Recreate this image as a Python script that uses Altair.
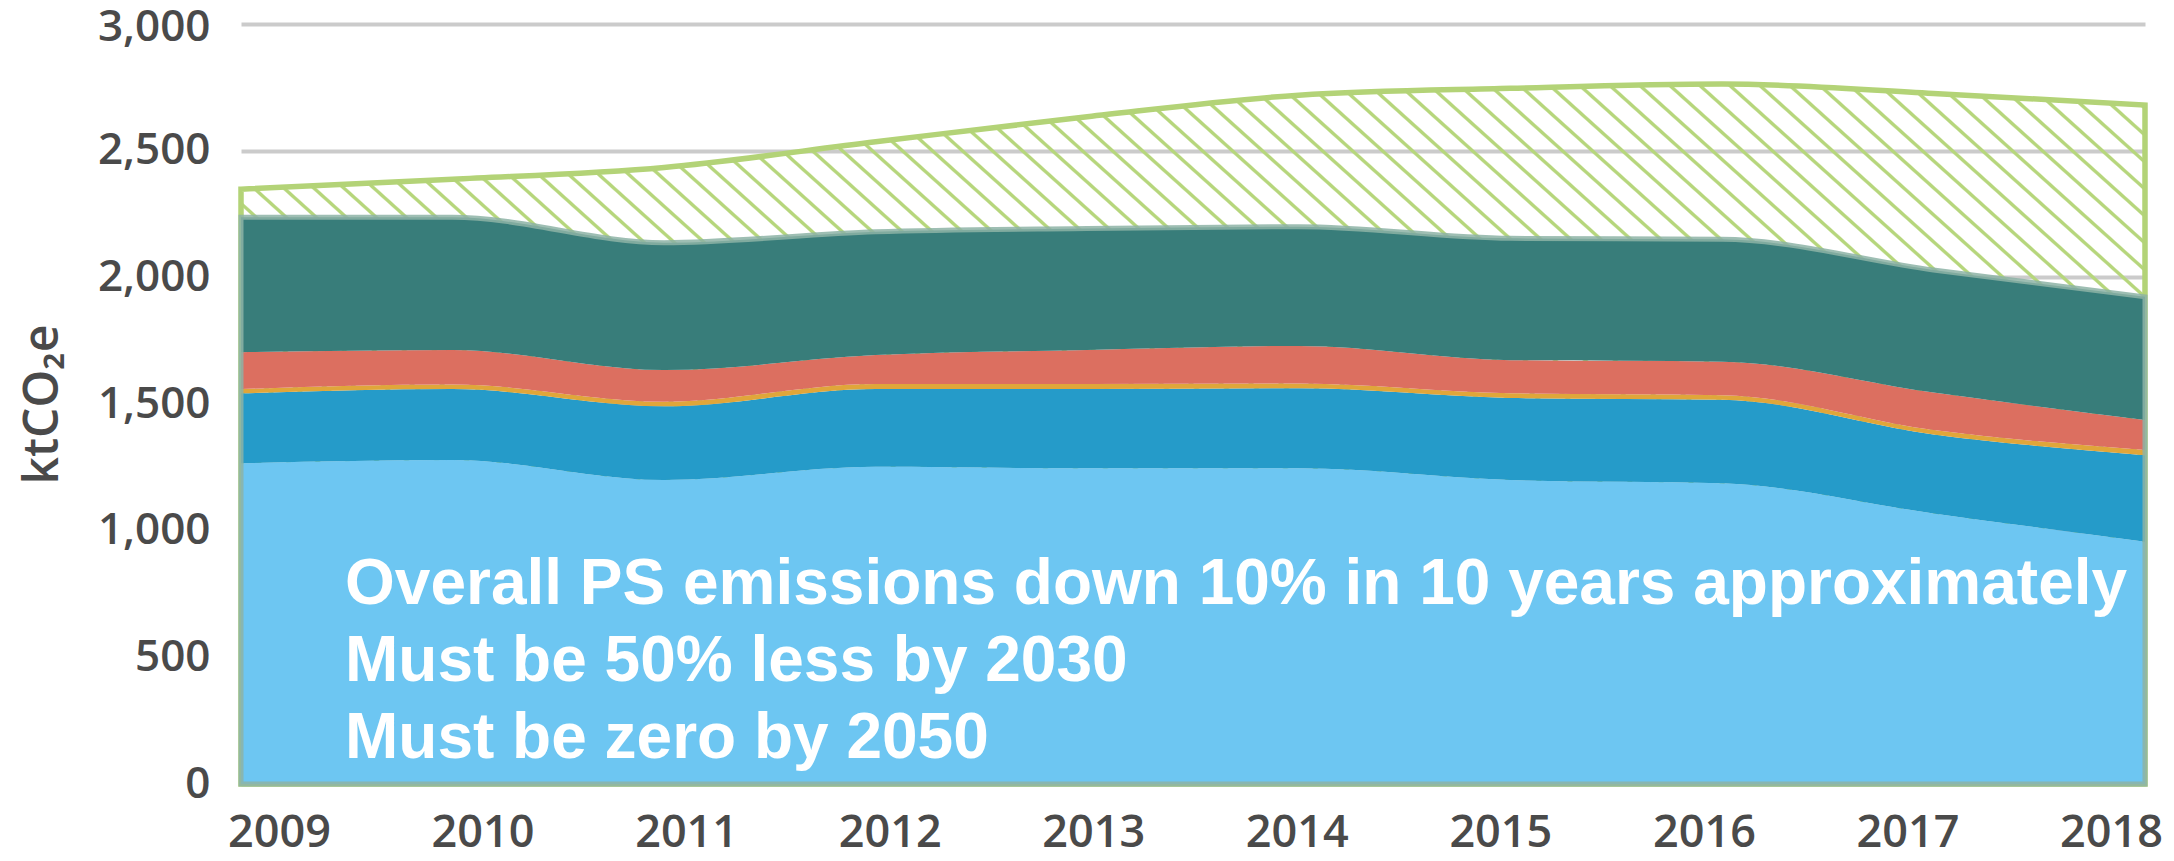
import math
import altair as alt
import pandas as pd

# ---------------- data ----------------
years = [2009, 2010, 2011, 2012, 2013, 2014, 2015, 2016, 2017, 2018]
light_blue = [1266, 1279, 1200, 1252, 1246, 1246, 1200, 1187, 1068, 956]
mid_blue = [276, 280, 291, 307, 313, 316, 324, 330, 312, 342]
yellow = [17, 18, 18, 20, 20, 19, 18, 18, 17, 20]
red = [145, 136, 125, 114, 134, 148, 131, 132, 148, 119]
teal = [533, 524, 503, 487, 480, 471, 481, 483, 484, 486]
hatched = [111, 150, 297, 355, 441, 519, 592, 613, 697, 757]
y_ticks = [0, 500, 1000, 1500, 2000, 2500, 3000]
notes = [
    "Overall PS emissions down 10% in 10 years approximately",
    "Must be 50% less by 2030",
    "Must be zero by 2050",
]
series = ["lb", "mb", "yl", "rd", "tl"]
colors = ["#6DC6F2", "#259BC9", "#E0A63A", "#DC6F60", "#387D7A"]

# ---------------- layout ----------------
W, H = 1904, 760
YMAX = 3000

df = pd.DataFrame({
    "year": years, "lb": light_blue, "mb": mid_blue, "yl": yellow,
    "rd": red, "tl": teal, "hx": hatched,
})

# ---------------- hatch pattern via a striped linear gradient ----------------
total_max = max(sum(v) for v in zip(light_blue, mid_blue, yellow, red, teal, hatched))
bw, bh = W, total_max * H / YMAX
slope = 0.9  # stripe direction (down-right)
nx, ny = slope, -1.0
nn = math.hypot(nx, ny)
nx, ny = nx / nn, ny / nn
corners = [(0, -bh), (bw, -bh), (bw, 0), (0, 0)]
L = max(cx * nx + cy * ny for cx, cy in corners)
snx, sny = bw * nx, bh * ny
k = L / (snx ** 2 + sny ** 2)
gx, gy = snx * k, sny * k
h_spacing = 30.0
period = h_spacing * abs(nx)   # perpendicular spacing
th = 4.5
GREEN = "#B6D67C"
CLEAR = "rgba(182,214,124,0)"
stops = [{"offset": 0, "color": CLEAR}]
i = 0
while True:
    c = (i + 0.5) * period
    a = (c - th / 2) / L
    b = (c + th / 2) / L
    if a >= 1:
        break
    a1 = (c - th / 4) / L
    b1 = (c + th / 4) / L
    for off, col in [(a, CLEAR), (a1, GREEN), (b1, GREEN), (b, CLEAR)]:
        if 0 <= off <= 1:
            stops.append({"offset": off, "color": col})
    i += 1
stops.append({"offset": 1, "color": CLEAR})
hatch_fill = alt.Gradient(gradient="linear", stops=stops, x1=0, y1=1, x2=gx, y2=1 + gy)

# ---------------- encodings ----------------
x_main = alt.X("year:Q", scale=alt.Scale(domain=[2009, 2018], nice=False, zero=False), axis=None)

y_axis = alt.Axis(
    values=y_ticks, format=",d", labelFont="Open Sans", labelFontSize=44,
    labelFontWeight=600, labelColor="#4A4A4A", labelPadding=31, ticks=False,
    labelOffset={"condition": {"test": "datum.value === 3000", "value": 3}, "value": 0},
    domain=False, grid=True, gridColor="#CBCBCB", gridWidth=4,
    title="ktCO₂e", titleFont="Open Sans", titleFontSize=48, titleFontWeight=600,
    titleColor="#4A4A4A", titleAngle=270, titleX=-198, titleY=380,
    titleAlign="center", titleBaseline="middle",
)
y_scale = alt.Scale(domain=[0, YMAX], nice=False)

base = alt.Chart(df)

hatch = base.transform_calculate(
    total="datum.lb + datum.mb + datum.yl + datum.rd + datum.tl + datum.hx"
).mark_area(
    interpolate="monotone", fill=hatch_fill, stroke="#B3D377", strokeWidth=5.5
).encode(x=x_main, y=alt.Y("total:Q", scale=y_scale, axis=y_axis))

stacked = base.transform_fold(series, as_=["series", "value"]).transform_calculate(
    ord="indexof(['lb','mb','yl','rd','tl'], datum.series)"
).mark_area(interpolate="monotone").encode(
    x=x_main,
    y=alt.Y("value:Q", stack="zero", scale=y_scale, axis=y_axis),
    color=alt.Color("series:N", scale=alt.Scale(domain=series, range=colors), legend=None),
    order=alt.Order("ord:Q", sort="ascending"),
)

border = base.transform_calculate(
    stot="datum.lb + datum.mb + datum.yl + datum.rd + datum.tl"
).mark_area(
    interpolate="monotone", fillOpacity=0, stroke="#8DB3A6", strokeWidth=5, strokeOpacity=0.85
).encode(x=x_main, y=alt.Y("stot:Q", scale=y_scale, axis=y_axis))

xlabels = alt.Chart(pd.DataFrame({"year": years})).mark_point(opacity=0).encode(
    x=alt.X(
        "year:Q",
        scale=alt.Scale(domain=[2009, 2018], range=[38, 1870], nice=False, zero=False),
        axis=alt.Axis(
            values=years, format="d", labelFont="Open Sans", labelFontSize=45,
            labelFontWeight=600, labelColor="#4A4A4A", labelPadding=26, ticks=False,
            tickSize=0, domain=False, grid=False, title="", orient="bottom",
            labelFlush=False, labelOverlap=False, labelBound=False,
        ),
    ),
    y=alt.value(0),
)

note_baselines = [580, 657, 734]
note_layers = []
for txt, yb in zip(notes, note_baselines):
    note_layers.append(
        alt.Chart(pd.DataFrame({"note": [txt]})).mark_text(
            align="left", baseline="alphabetic", font="Liberation Sans",
            fontSize=64, fontWeight="bold", color="white",
        ).encode(x=alt.value(104), y=alt.value(yb), text="note:N")
    )

chart = alt.layer(hatch, stacked, border, xlabels, *note_layers).resolve_scale(
    x="independent"
).properties(
    width=W, height=H,
    padding={"left": 233, "top": 16, "right": 21, "bottom": 77},
    autosize=alt.AutoSizeParams(type="none"),
).configure_view(strokeWidth=0)

chart.save("out.html", embed_options={"renderer": "svg", "actions": False})
